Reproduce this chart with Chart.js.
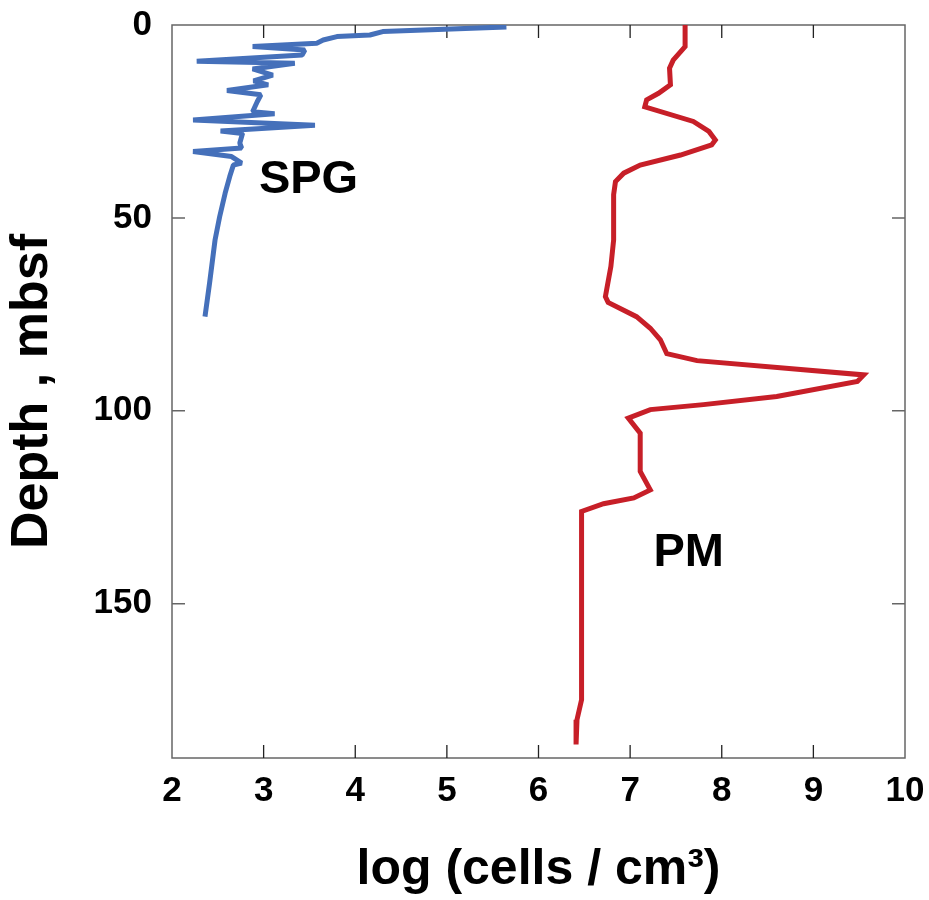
<!DOCTYPE html>
<html>
<head>
  <title>Cell abundance vs depth</title>
  <script src="https://cdn.jsdelivr.net/npm/chart.js@4/dist/chart.umd.min.js"></script>
  <style>
    body { margin: 0; background: #fff; }
  </style>
</head>
<body>
  <canvas id="myChart" width="929" height="900"></canvas>
  <script>
    // SPG profile (depth in mbsf, log cells/cm3)
    var spgDepth = [0.5, 1.7, 2.6, 3.0, 3.9, 4.7, 5.6, 6.5, 7.8, 9.4, 9.9, 11.4, 13.0, 14.5, 15.5, 17.0,
                    18.1, 19.9, 22.5, 23.0, 24.6, 26.0, 27.5, 28.1, 30.6, 31.9, 32.8, 34.1, 35.8, 36.3,
                    39.3, 43.6, 49.7, 55.7, 66.9, 75.6];
    var spgLog = [5.65, 4.30, 4.16, 3.80, 3.65, 3.58, 2.88, 3.45, 3.42, 2.27, 3.34, 2.88, 3.10, 2.89, 3.05, 2.60,
                  2.97, 2.93, 2.88, 3.12, 2.23, 3.56, 2.53, 2.77, 2.74, 2.76, 2.23, 2.65, 2.76, 2.67,
                  2.63, 2.58, 2.52, 2.47, 2.41, 2.36];

    // PM profile
    var pmDepth = [0, 5.6, 9.1, 11.2, 15.5, 17.7, 19.4, 21.2, 25.0, 27.6, 29.8, 31.1, 33.7, 36.3, 38.4, 40.6,
                   44.0, 55.7, 62.6, 70.4, 71.9, 75.6, 78.6, 81.6, 85.2, 87.0, 90.7, 92.4, 96.3, 98.4,
                   99.7, 101.9, 105.8, 115.7, 120.5, 122.6, 124.1, 126.1, 174.9, 180.1, 186.5];
    var pmLog = [7.60, 7.60, 7.47, 7.43, 7.44, 7.31, 7.18, 7.16, 7.69, 7.86, 7.93, 7.89, 7.55, 7.11, 6.93, 6.84,
                 6.82, 6.82, 6.79, 6.73, 6.76, 7.07, 7.22, 7.33, 7.40, 7.73, 9.55, 9.48, 8.60, 7.80,
                 7.22, 6.98, 7.11, 7.11, 7.22, 7.04, 6.71, 6.47, 6.47, 6.42, 6.41];

    // series labels placed in data units
    var seriesNames = ['SPG', 'PM'];
    var nameLog = [3.49, 7.64];
    var nameDepth = [40.2, 137.0];

    var xTicks = [2, 3, 4, 5, 6, 7, 8, 9, 10];
    var yTicks = [0, 50, 100, 150];

    function pairs(xs, ys) {
      return xs.map(function(v, i) { return { x: v, y: ys[i] }; });
    }

    var FONT = 'Liberation Sans, Arial, sans-serif';

    // frame with inward ticks on all four sides, plus series names
    var framePlugin = {
      id: 'frame',
      beforeDatasetsDraw: function(chart) {
        var c = chart.ctx, a = chart.chartArea;
        var xs = chart.scales.x, ys = chart.scales.y;
        var len = 13;
        c.save();
        c.strokeStyle = '#666';
        c.lineWidth = 1.5;
        c.strokeRect(a.left, a.top, a.right - a.left, a.bottom - a.top);
        c.beginPath();
        yTicks.forEach(function(v) {
          if (v === ys.min || v === ys.max) return;
          var py = ys.getPixelForValue(v);
          c.moveTo(a.left, py); c.lineTo(a.left + len, py);
          c.moveTo(a.right, py); c.lineTo(a.right - len, py);
        });
        c.stroke();
        c.strokeStyle = '#222';
        c.lineWidth = 1.3;
        c.beginPath();
        xTicks.forEach(function(v) {
          if (v === xs.min || v === xs.max) return;
          var px = xs.getPixelForValue(v);
          c.moveTo(px, a.top); c.lineTo(px, a.top + len);
          c.moveTo(px, a.bottom); c.lineTo(px, a.bottom - len);
        });
        c.stroke();
        c.restore();
      },
      afterDatasetsDraw: function(chart) {
        var c = chart.ctx;
        var xs = chart.scales.x, ys = chart.scales.y;
        c.save();
        c.fillStyle = '#000';
        c.font = 'bold 47px ' + FONT;
        c.textAlign = 'center';
        c.textBaseline = 'middle';
        seriesNames.forEach(function(n, i) {
          c.fillText(n, xs.getPixelForValue(nameLog[i]), ys.getPixelForValue(nameDepth[i]));
        });
        c.restore();
      }
    };

    var ctx = document.getElementById('myChart').getContext('2d');

    var hidden = 'rgba(0,0,0,0)';

    var chart = new Chart(ctx, {
      type: 'scatter',
      data: {
        datasets: [{
          label: 'SPG',
          data: pairs(spgLog, spgDepth),
          showLine: true,
          borderColor: '#4570ba',
          borderWidth: 5,
          borderJoinStyle: 'bevel',
          pointRadius: 0,
          fill: false
        }, {
          label: 'PM',
          data: pairs(pmLog, pmDepth),
          showLine: true,
          borderColor: '#c71f28',
          borderWidth: 5,
          pointRadius: 0,
          fill: false
        }]
      },
      options: {
        responsive: false,
        animation: false,
        devicePixelRatio: 1,
        layout: { padding: { top: 25, right: 24, left: 0, bottom: 0 } },
        plugins: {
          legend: { display: false },
          tooltip: { enabled: false }
        },
        scales: {
          x: {
            type: 'linear',
            position: 'bottom',
            min: 2,
            max: 10,
            grid: { display: true, drawOnChartArea: false, drawTicks: true, tickLength: 12, color: hidden },
            border: { display: false },
            afterBuildTicks: function(s) { s.ticks = xTicks.map(function(v) { return { value: v }; }); },
            ticks: {
              padding: 0,
              color: '#000',
              font: { family: FONT, size: 35, weight: 'bold' }
            },
            title: {
              display: true,
              text: 'log (cells / cm³)',
              color: '#000',
              font: { family: FONT, size: 50, weight: 'bold', lineHeight: 1.2 },
              padding: { top: 0, bottom: 0 }
            },
            afterFit: function(s) { s.height = 142; }
          },
          y: {
            type: 'linear',
            position: 'left',
            reverse: true,
            min: 0,
            max: 190,
            grid: { display: true, drawOnChartArea: false, drawTicks: true, tickLength: 20, color: hidden },
            border: { display: false },
            afterBuildTicks: function(s) { s.ticks = yTicks.map(function(v) { return { value: v }; }); },
            ticks: {
              padding: 0,
              color: '#000',
              font: { family: FONT, size: 35, weight: 'bold' }
            },
            title: {
              display: true,
              text: 'Depth , mbsf',
              color: '#000',
              font: { family: FONT, size: 52, weight: 'bold', lineHeight: 1.2 },
              padding: { top: 1, bottom: 0 }
            },
            afterFit: function(s) { s.width = 172; }
          }
        }
      },
      plugins: [framePlugin]
    });
  </script>
</body>
</html>
